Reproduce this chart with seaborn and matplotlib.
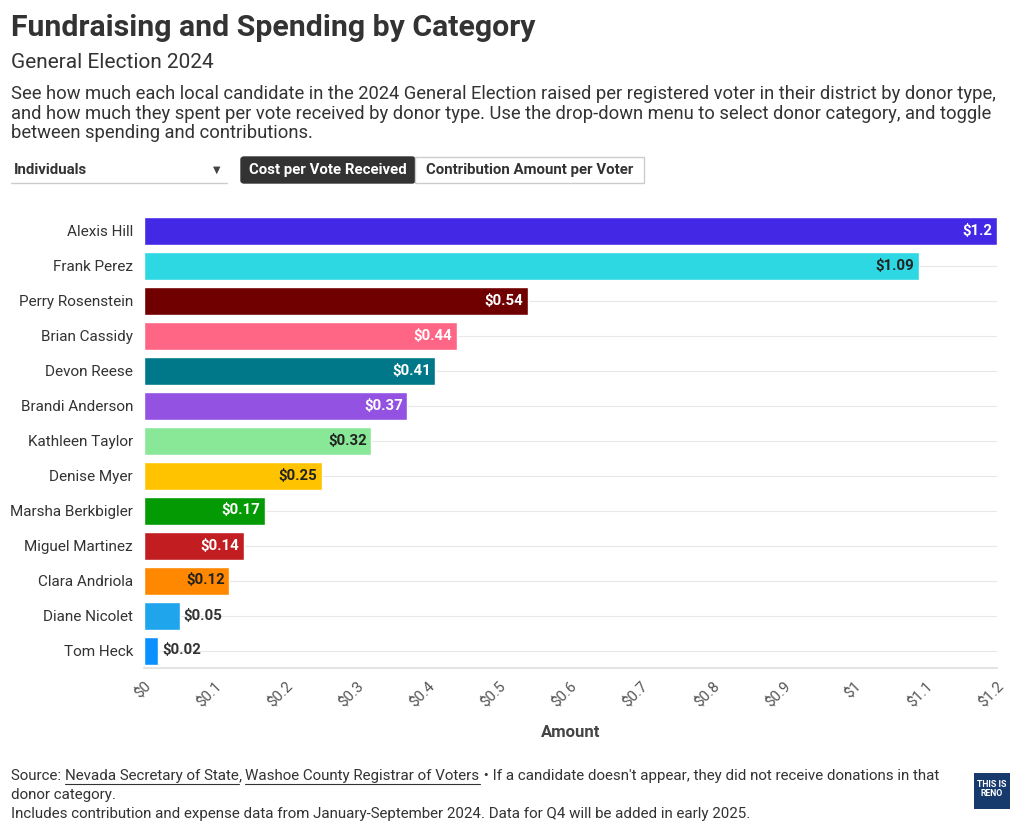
import matplotlib
matplotlib.use("Agg")
import matplotlib.pyplot as plt
import seaborn as sns
import pandas as pd
from matplotlib.patches import FancyBboxPatch, Rectangle

candidates = ["Alexis Hill", "Frank Perez", "Perry Rosenstein", "Brian Cassidy", "Devon Reese",
              "Brandi Anderson", "Kathleen Taylor", "Denise Myer", "Marsha Berkbigler",
              "Miguel Martinez", "Clara Andriola", "Diane Nicolet", "Tom Heck"]
values = [1.2, 1.09, 0.54, 0.44, 0.41, 0.37, 0.32, 0.25, 0.17, 0.14, 0.12, 0.05, 0.02]
colors = ["#4328e6", "#2ed8e2", "#700000", "#ff6584", "#00788a", "#9452e2", "#88e898",
          "#ffc300", "#049a04", "#c21e22", "#ff8800", "#1ea5ec", "#0a91ff"]
label_colors = ["white", "#222222", "white", "white", "white", "white", "#222222",
                "#222222", "white", "white", "#222222", "#333333", "#333333"]
x_ticks = [0, 0.1, 0.2, 0.3, 0.4, 0.5, 0.6, 0.7, 0.8, 0.9, 1.0, 1.1, 1.2]
x_tick_labels = ["$0", "$0.1", "$0.2", "$0.3", "$0.4", "$0.5", "$0.6", "$0.7", "$0.8",
                 "$0.9", "$1", "$1.1", "$1.2"]

sns.set_theme(style="white")
plt.rcParams["font.family"] = ["Roboto", "DejaVu Sans"]

W, H = 1020, 833
fig = plt.figure(figsize=(W / 100, H / 100), dpi=100)
ax = fig.add_axes([144 / W, 1 - 668 / H, (997 - 144) / W, (668 - 213) / H])

df = pd.DataFrame({"name": candidates, "value": values})
sns.barplot(data=df, x="value", y="name", hue="name", palette=dict(zip(candidates, colors)),
            order=candidates, hue_order=candidates, legend=False, width=0.8,
            saturation=1, ax=ax, zorder=3)

ax.set_xlim(0, 1.2)
ax.set_ylim(len(candidates) - 0.5, -0.5)
ax.set_xticks(x_ticks)
ax.set_xticklabels(x_tick_labels, rotation=45, ha="right", rotation_mode="anchor",
                   color="#555555", fontsize=10.8)
ax.tick_params(axis="x", length=4, color="#dddddd", pad=4)
ax.tick_params(axis="y", length=0, pad=8, labelsize=11, labelcolor="#333333")
for s in ["top", "right", "left"]:
    ax.spines[s].set_visible(False)
ax.spines["bottom"].set_color("#e0e0e0")
ax.grid(axis="y", color="#e8e8e8", linewidth=0.8, zorder=0)
ax.grid(axis="x", visible=False)
ax.set_ylabel("")
ax.set_xlabel("Amount", fontsize=12, fontweight="bold", color="#444444", labelpad=11)

for i, (v, lc) in enumerate(zip(values, label_colors)):
    txt = "$" + (f"{v:g}")
    if v < 0.1:
        ax.text(v + 0.006, i, txt, ha="left", va="center", color=lc, fontsize=10.8,
                fontweight="bold", zorder=4)
    else:
        ax.text(v - 0.006, i, txt, ha="right", va="center", color=lc, fontsize=10.8,
                fontweight="bold", zorder=4)

def fx(px):
    return px / W

def fy(py):
    return 1 - py / H

fig.text(fx(11), fy(28), "Fundraising and Spending by Category", fontsize=21.8,
         fontweight="bold", color="#333333", va="center")
fig.text(fx(11), fy(63), "General Election 2024", fontsize=15, color="#333333", va="center")
desc = ("See how much each local candidate in the 2024 General Election raised per registered voter in their district by donor type,\n"
        "and how much they spent per vote received by donor type. Use the drop-down menu to select donor category, and toggle\n"
        "between spending and contributions.")
fig.text(fx(11), fy(85), desc, fontsize=13.2, color="#333333", va="top", linespacing=1.12)

# dropdown
fig.text(fx(14), fy(170), "Individuals", fontsize=10.8, fontweight="bold", color="#333333", va="center")
fig.text(fx(217), fy(170), "\u25BC", fontsize=7, color="#444444", va="center", ha="center",
         family="DejaVu Sans")
fig.add_artist(plt.Line2D([fx(11), fx(227)], [fy(183), fy(183)], color="#cccccc", lw=1))

# toggle buttons
fig.add_artist(FancyBboxPatch((fx(241), fy(183)), fx(174), 26 / H,
                              boxstyle="round,pad=0,rounding_size=0.003",
                              facecolor="#333333", edgecolor="#333333", lw=1))
fig.add_artist(Rectangle((fx(415), fy(183)), fx(229), 26 / H,
                         facecolor="white", edgecolor="#cccccc", lw=1))
fig.text(fx(328), fy(170), "Cost per Vote Received", fontsize=10.8, fontweight="bold",
         color="white", va="center", ha="center")
fig.text(fx(530), fy(170), "Contribution Amount per Voter", fontsize=10.8, fontweight="bold",
         color="#333333", va="center", ha="center")

# footer
fig.canvas.draw()
renderer = fig.canvas.get_renderer()
pieces = [("Source: ", False), ("Nevada Secretary of State", True), (", ", False),
          ("Washoe County Registrar of Voters", True),
          (" \u2022 If a candidate doesn't appear, they did not receive donations in that", False)]
x = 11
y = 776
for t, ul in pieces:
    tx = fig.text(fx(x), fy(y), t, fontsize=10.9, color="#333333", va="center")
    bb = tx.get_window_extent(renderer)
    if ul:
        fig.add_artist(plt.Line2D([fx(x), fx(x + bb.width)], [fy(y + 8), fy(y + 8)],
                                  color="#333333", lw=0.8))
    x += bb.width
fig.text(fx(11), fy(795), "donor category.", fontsize=10.9, color="#333333", va="center")
fig.text(fx(11), fy(814), "Includes contribution and expense data from January-September 2024. Data for Q4 will be added in early 2025.",
         fontsize=10.9, color="#333333", va="center")

# logo
fig.add_artist(Rectangle((fx(974), fy(809)), fx(36), 36 / H, facecolor="#163a6b", edgecolor="none"))
fig.text(fx(992), fy(789), "THIS IS\nRENO", fontsize=6.3, fontweight="bold", color="white",
         ha="center", va="center", linespacing=0.95)

fig.savefig("out.png", dpi=100, facecolor="white")
